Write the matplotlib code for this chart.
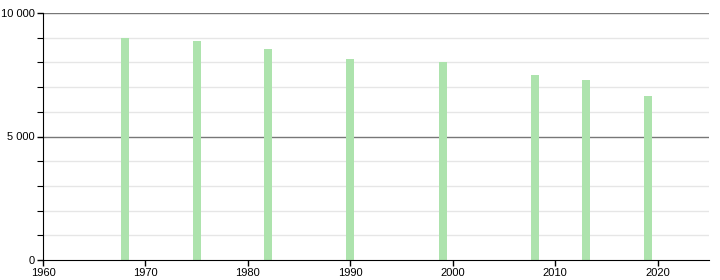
import matplotlib.pyplot as plt
from matplotlib.ticker import MultipleLocator, FixedLocator

years = [1968, 1975, 1982, 1990, 1999, 2008, 2013, 2019]
population = [8980, 8870, 8530, 8140, 8010, 7490, 7290, 6640]
x_ticks = [1960, 1970, 1980, 1990, 2000, 2010, 2020]
y_labels = {0: "0", 5000: "5 000", 10000: "10 000"}

plt.rcParams['font.family'] = ['Liberation Sans', 'DejaVu Sans']

fig = plt.figure(figsize=(7.2, 2.8), dpi=100)
ax = fig.add_axes([43 / 720, 20 / 280, 666 / 720, 247 / 280])

# light grid every 1000, darker at 5000 / 10000
for v in range(1000, 10000, 1000):
    if v == 5000:
        continue
    ax.axhline(v, color='#e6e6e6', lw=1, zorder=0)
ax.axhline(5000, color='#777777', lw=1, zorder=0)
ax.axhline(10000, color='#777777', lw=1, zorder=0)

ax.bar(years, population, width=0.78, color='#ade3ad', zorder=2)

ax.set_xlim(1960, 2025)
ax.set_ylim(0, 10000)

ax.xaxis.set_major_locator(FixedLocator(x_ticks))
ax.set_xticklabels([str(x) for x in x_ticks])
ax.yaxis.set_major_locator(FixedLocator(list(y_labels.keys())))
ax.set_yticklabels(list(y_labels.values()))
ax.yaxis.set_minor_locator(MultipleLocator(1000))

ax.tick_params(axis='both', which='major', labelsize=8, length=4, width=1, color='black', pad=2)
ax.tick_params(axis='y', which='minor', length=4, width=0.8, color='black')

for side in ['top', 'right']:
    ax.spines[side].set_visible(False)
ax.spines['left'].set_color('black')
ax.spines['bottom'].set_color('black')

fig.savefig('out.png', dpi=100)
